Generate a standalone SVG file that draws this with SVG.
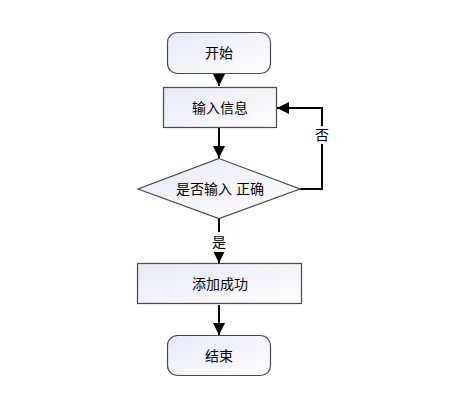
<svg xmlns="http://www.w3.org/2000/svg" width="459" height="405" viewBox="0 0 459 405">
<style>
.box{fill:url(#g);stroke:#4a4a4a;stroke-width:1.2}
.t{font-family:"Liberation Sans","Noto Sans CJK SC",sans-serif;font-size:14px;fill:#000;text-anchor:middle;dominant-baseline:central}
.ln{fill:none;stroke:#000;stroke-width:2}
</style>
<defs>
<linearGradient id="g" x1="0" y1="0" x2="1" y2="1">
<stop offset="0" stop-color="#e4e9f5"/>
<stop offset="1" stop-color="#ffffff"/>
</linearGradient>
<marker id="a" viewBox="0 0 10 10" refX="10" refY="5" markerWidth="6" markerHeight="6" orient="auto" markerUnits="strokeWidth">
<path d="M0,0 L10,5 L0,10 z" fill="#000"/>
</marker>
</defs>
<rect width="459" height="405" fill="#fff"/>
<g id="connectors">
<line class="ln" x1="219" y1="74" x2="219" y2="86" marker-end="url(#a)"/>
<line class="ln" x1="219" y1="128" x2="219" y2="158" marker-end="url(#a)"/>
<line class="ln" x1="219" y1="219" x2="219" y2="263" marker-end="url(#a)"/>
<line class="ln" x1="219" y1="305" x2="219" y2="335" marker-end="url(#a)"/>
<polyline class="ln" points="300,189 322,189 322,108 277,108" marker-end="url(#a)"/>
<rect x="313" y="126" width="18" height="18" fill="#fff"/>
<text class="t" x="322" y="135">否</text>
<rect x="210" y="232" width="18" height="20" fill="#fff"/>
<text class="t" x="219" y="242">是</text>
</g>
<g id="start">
<rect class="box" x="167.5" y="32.5" width="103" height="41" rx="10"/>
<text class="t" x="219" y="53">开始</text>
</g>
<g id="input">
<rect class="box" x="163.5" y="87.5" width="113" height="40"/>
<text class="t" x="220" y="108">输入信息</text>
</g>
<g id="check">
<polygon class="box" points="219,158.5 300,189 219,218.5 138,189"/>
<text class="t" x="220" y="189">是否输入 正确</text>
</g>
<g id="add">
<rect class="box" x="137.5" y="263.5" width="164" height="40"/>
<text class="t" x="220" y="284">添加成功</text>
</g>
<g id="end">
<rect class="box" x="167.5" y="335.5" width="103" height="40" rx="10"/>
<text class="t" x="219" y="356">结束</text>
</g>
</svg>
